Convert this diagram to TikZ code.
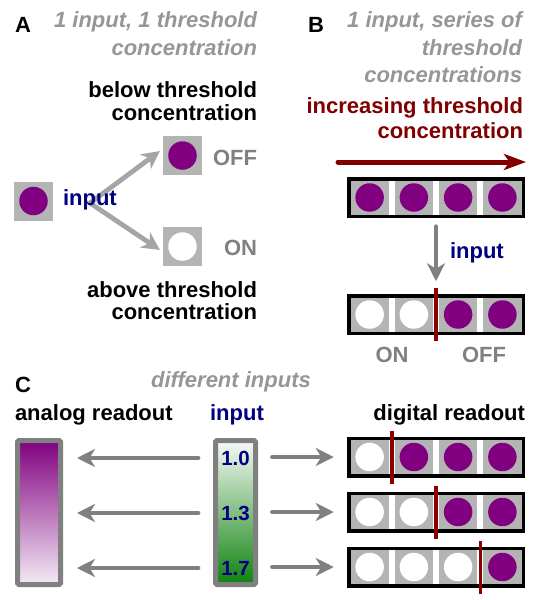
\documentclass[tikz,border=0pt]{standalone}
\usepackage{fontspec}
\setmainfont{Liberation Sans}
\usetikzlibrary{arrows.meta}
\definecolor{purp}{RGB}{128,0,128}
\definecolor{cellgray}{RGB}{180,180,180}
\definecolor{txtgray}{RGB}{128,128,128}
\definecolor{titlegray}{RGB}{150,150,150}
\definecolor{navyblue}{RGB}{0,0,128}
\definecolor{dred}{RGB}{128,0,0}
\definecolor{thrred}{RGB}{140,0,0}
\definecolor{arrgrayA}{RGB}{165,165,165}
\definecolor{arrgray}{RGB}{128,128,128}
\definecolor{dgreen}{RGB}{15,130,15}

\newcommand\drawstrip[4]{%
  \foreach \i in {1,...,4}{%
    \pgfmathsetmacro\cx{369.625+(\i-1)*44.25}%
    \fill[cellgray] (\cx-19.125,#2-18.75) rectangle (\cx+19.125,#2+18.75);
    \ifnum\i>#3
      \fill[purp] (\cx,#2) circle[radius=14.25pt];
    \else
      \fill[white] (\cx,#2) circle[radius=14.25pt];
    \fi
  }
  \node[stripbox] (#1) at (436,#2) {};
  \ifnum#4>0
    \draw[thr] (347.5+44.25*#4,#2-26.5) -- (347.5+44.25*#4,#2+26.5);
  \fi
}

\begin{document}
\begin{tikzpicture}[x=1pt,y=-1pt,
  every node/.style={inner sep=0pt, outer sep=0pt},
  lbl/.style={font=\fontsize{22}{26}\selectfont\bfseries},
  ttl/.style={font=\fontsize{22}{26}\selectfont\bfseries\itshape, text=titlegray},
  num/.style={font=\fontsize{20.5}{22}\selectfont\bfseries, text=navyblue},
  cellbox/.style={fill=cellgray, minimum size=39pt},
  dotp/.style={circle, fill=purp, minimum size=28.5pt},
  dotw/.style={circle, fill=white, minimum size=28.5pt},
  stripbox/.style={draw=black, line width=3.5pt, minimum width=174.5pt, minimum height=37.5pt},
  thr/.style={draw=thrred, line width=3.5pt},
  garrA/.style={draw=arrgrayA, line width=4.8pt, line cap=round, -{Stealth[length=18pt,width=18pt,inset=5.5pt]}},
  garr/.style={draw=arrgray, line width=4.8pt, line cap=round, -{Stealth[length=18pt,width=18pt,inset=5.5pt]}},
  redarr/.style={draw=dred, line width=5pt, line cap=round, -{Stealth[length=22pt,width=16pt,inset=5.5pt]}},
  bar/.style={draw=arrgray, line width=5pt, rounded corners=1.5pt, minimum width=43pt, minimum height=144pt}
]
\useasboundingbox (0,0) rectangle (538,600);

% ---------------- Panel A ----------------
\node[lbl, anchor=base west] (labA) at (15,32) {A};
\node[ttl, anchor=base east] (tA1) at (257,27.5) {1 input, 1 threshold};
\node[ttl, anchor=base east] (tA2) at (257,55) {concentration};
\node[lbl, anchor=base east] (bel1) at (257,97) {below threshold};
\node[lbl, anchor=base east] (bel2) at (257,120) {concentration};

\node[cellbox] (inbox) at (33.5,201) {};
\node[dotp] (indot) at (inbox) {};
\node[cellbox] (offbox) at (182.5,155.5) {};
\node[dotp] (offdot) at (offbox) {};
\node[cellbox] (onbox) at (182.5,246.5) {};
\node[dotw] (ondot) at (onbox) {};

\coordinate (fork) at (90,203);
\coordinate (tipoff) at (160,151);
\coordinate (tipon) at (160,250);
\draw[garrA] (fork) -- (tipoff);
\draw[garrA] (fork) -- (tipon);

\node[lbl, anchor=base west, text=navyblue] (inA) at (63,205) {input};
\node[lbl, anchor=base east, text=txtgray] (offA) at (257,165) {OFF};
\node[lbl, anchor=base east, text=txtgray] (onA) at (257,255) {ON};
\node[lbl, anchor=base east] (ab1) at (257,297) {above threshold};
\node[lbl, anchor=base east] (ab2) at (257,319) {concentration};

% ---------------- Panel B ----------------
\node[lbl, anchor=base west] (labB) at (308,32) {B};
\node[ttl, anchor=base east] (tB1) at (522,27.5) {1 input, series of};
\node[ttl, anchor=base east] (tB2) at (522,55) {threshold};
\node[ttl, anchor=base east] (tB3) at (522,82.5) {concentrations};
\node[lbl, anchor=base east, text=dred] (inc1) at (523,113) {increasing threshold};
\node[lbl, anchor=base east, text=dred] (inc2) at (523,138) {concentration};

\coordinate (ra0) at (338,162);
\coordinate (ra1) at (526,162);
\draw[redarr] (ra0) -- (ra1);

\drawstrip{sB1}{197.5}{0}{0}
\drawstrip{sB2}{314.5}{2}{2}
\draw[garr, shorten <=10.5pt, shorten >=14.5pt] (sB1.south) -- (sB2.north);
\node[lbl, anchor=base west, text=navyblue] (inB) at (450,258) {input};
\node[lbl, anchor=base, text=txtgray] (onB) at (392,362) {ON};
\node[lbl, anchor=base, text=txtgray] (offB) at (484,362) {OFF};

% ---------------- Panel C ----------------
\node[lbl, anchor=base west] (labC) at (15,392) {C};
\node[ttl, anchor=base] (diff) at (231,387) {different inputs};
\node[lbl, anchor=base west] (analog) at (15,420) {analog readout};
\node[lbl, anchor=base, text=navyblue] (inC) at (237,420) {input};
\node[lbl, anchor=base east] (digital) at (525,420) {digital readout};

\node[bar, top color=purp, bottom color=purp!8] (abar) at (39,512.5) {};
\node[bar, minimum width=40pt, top color=dgreen!4, bottom color=dgreen] (ibar) at (235.5,512.5) {};
\node[num] (n10) at (235.5,458) {1.0};
\node[num] (n13) at (235.5,513) {1.3};
\node[num] (n17) at (235.5,568) {1.7};

\drawstrip{sC1}{457}{1}{1}
\drawstrip{sC2}{512}{2}{2}
\drawstrip{sC3}{567}{3}{3}

\draw[garr, shorten <=17.5pt, shorten >=16.5pt] (ibar.west |- n10) -- (abar.east |- n10);
\draw[garr, shorten <=17.5pt, shorten >=16.5pt] (ibar.west |- n13) -- (abar.east |- n13);
\draw[garr, shorten <=17.5pt, shorten >=16.5pt] (ibar.west |- n17) -- (abar.east |- n17);
\draw[garr, shorten <=17pt, shorten >=15pt] (ibar.east |- sC1) -- (sC1.west);
\draw[garr, shorten <=17pt, shorten >=15pt] (ibar.east |- sC2) -- (sC2.west);
\draw[garr, shorten <=17pt, shorten >=15pt] (ibar.east |- sC3) -- (sC3.west);
\end{tikzpicture}
\end{document}
